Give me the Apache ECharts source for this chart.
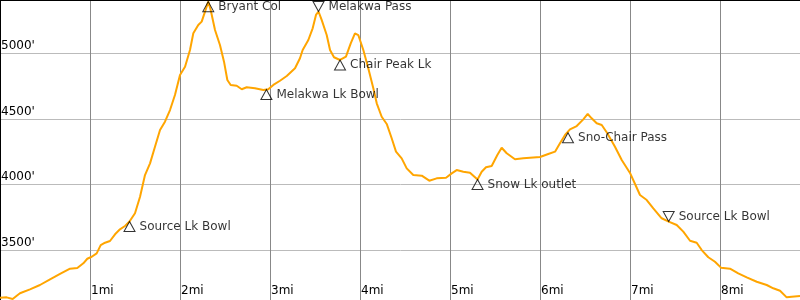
<!DOCTYPE html>
<html>
<head>
<meta charset="utf-8">
<script src="https://cdn.jsdelivr.net/npm/echarts@6/dist/echarts.min.js"></script>
<style>html,body{margin:0;padding:0;background:#fff}#c{width:800px;height:300px}</style>
</head>
<body>
<div id="c"></div>
<script>
// distance along trail (miles)
const miles = [0,0.074,0.141,0.186,0.222,0.333,0.444,0.556,0.667,0.778,0.859,0.926,0.970,1.019,1.074,1.119,1.167,1.222,1.278,1.333,1.389,1.439,1.5,1.556,1.611,1.667,1.722,1.778,1.833,1.889,1.944,2.0,2.056,2.111,2.148,2.203,2.241,2.278,2.314,2.341,2.389,2.444,2.489,2.526,2.563,2.630,2.686,2.741,2.833,2.926,2.981,3.037,3.111,3.186,3.278,3.333,3.363,3.426,3.474,3.511,3.539,3.574,3.630,3.667,3.711,3.778,3.844,3.897,3.944,3.981,4.037,4.092,4.148,4.186,4.241,4.297,4.352,4.4,4.463,4.519,4.592,4.686,4.770,4.852,4.956,5.019,5.074,5.148,5.222,5.306,5.352,5.4,5.463,5.526,5.574,5.630,5.722,5.814,6.0,6.092,6.167,6.222,6.278,6.333,6.408,6.481,6.530,6.574,6.630,6.686,6.748,6.833,6.908,7.0,7.056,7.111,7.186,7.259,7.352,7.430,7.519,7.592,7.667,7.741,7.797,7.870,7.944,8.011,8.111,8.203,8.297,8.408,8.519,8.592,8.667,8.741,8.797,8.889];
// elevation (feet)
const elevation = [3139,3142,3129,3154,3173,3203,3236,3279,3320,3360,3365,3401,3436,3451,3477,3540,3558,3571,3622,3660,3685,3719,3782,3908,4073,4162,4289,4416,4479,4568,4682,4835,4898,5025,5152,5215,5241,5317,5393,5330,5177,5063,4936,4797,4759,4753,4726,4741,4734,4721,4726,4759,4791,4827,4886,4962,5025,5101,5190,5292,5318,5254,5139,5025,4970,4949,4974,5076,5152,5139,5025,4886,4734,4619,4517,4462,4353,4251,4200,4124,4073,4068,4030,4048,4053,4086,4111,4098,4091,4039,4098,4132,4142,4226,4281,4239,4193,4200,4210,4233,4251,4315,4378,4421,4446,4497,4538,4505,4467,4454,4391,4289,4188,4089,4005,3921,3883,3820,3744,3719,3693,3642,3573,3558,3502,3447,3413,3368,3360,3325,3294,3261,3236,3211,3192,3142,3147,3152];

// waypoints
const wpNames = ['Source Lk Bowl','Bryant Col','Melakwa Lk Bowl','Melakwa Pass','Chair Peak Lk','Snow Lk outlet','Sno-Chair Pass','Source Lk Bowl'];
const wpMiles = [1.439,2.314,2.96,3.539,3.778,5.306,6.311,7.43];
const wpElev  = [3719,5393,4724,5318,4949,4039,4395,3719];
const wpDir   = ['up','up','up','down','up','up','up','down'];

// axis ticks
const yTicks = [3500,4000,4500,5000];
const xTicks = [1,2,3,4,5,6,7,8];

const lineData = miles.map((m,i)=>[m, elevation[i]]);
const upData = [], downData = [];
wpNames.forEach((n,i)=>{
  const item = {name:n, value:[wpMiles[i], wpElev[i]]};
  (wpDir[i]==='up'?upData:downData).push(item);
});

const font = {fontFamily:'DejaVu Sans', fontSize:12, color:'#000'};
const markerStyle = {color:'rgba(255,255,255,0)', borderColor:'#000', borderWidth:1};
const chart = echarts.init(document.getElementById('c'), null, {renderer:'canvas'});
chart.setOption({
  animation:false,
  backgroundColor:'#fff',
  grid:{left:0, right:-10, top:-12.4, bottom:-16, containLabel:false, outerBoundsMode:'none'},
  xAxis:{type:'value', min:0, max:9, interval:1,
    axisLine:{show:false}, axisTick:{show:false},
    splitLine:{show:true, lineStyle:{color:'#888', width:1}},
    axisLabel:Object.assign({inside:true, margin:25, align:'left', verticalAlign:'middle', padding:[0,0,0,1],
      formatter:v=> xTicks.indexOf(v)>=0 ? v+'mi' : ''}, font)
  },
  yAxis:{type:'value', min:3000, max:5500, interval:500,
    axisLine:{show:true, lineStyle:{color:'#000', width:1}}, axisTick:{show:false},
    splitLine:{show:true, lineStyle:{color:'#bbb', width:1}},
    axisLabel:Object.assign({inside:true, margin:1, align:'left', verticalAlign:'bottom', padding:[0,0,1.5,0],
      formatter:v=> yTicks.indexOf(v)>=0 ? v+"'" : ''}, font)
  },
  graphic:[{type:'line', shape:{x1:0,y1:0.5,x2:800,y2:0.5}, style:{stroke:'#000', lineWidth:1}, z:100}],
  series:[
    {type:'line', data:lineData, showSymbol:false, symbol:'none', smooth:false,
      lineStyle:{color:'#ffa500', width:2}, z:3},
    {type:'scatter', data:upData, symbol:'triangle', symbolSize:[11,10], symbolOffset:[0,5], z:5,
      itemStyle:markerStyle, emphasis:{disabled:true},
      label:Object.assign({show:true, position:'right', distance:4, formatter:p=>p.name}, font)},
    {type:'scatter', data:downData, symbol:'triangle', symbolRotate:180, symbolSize:[11,10], symbolOffset:[0,-5], z:5,
      itemStyle:markerStyle, emphasis:{disabled:true},
      label:Object.assign({show:true, position:'right', distance:4, formatter:p=>p.name}, font)}
  ]
});
</script>
</body>
</html>
